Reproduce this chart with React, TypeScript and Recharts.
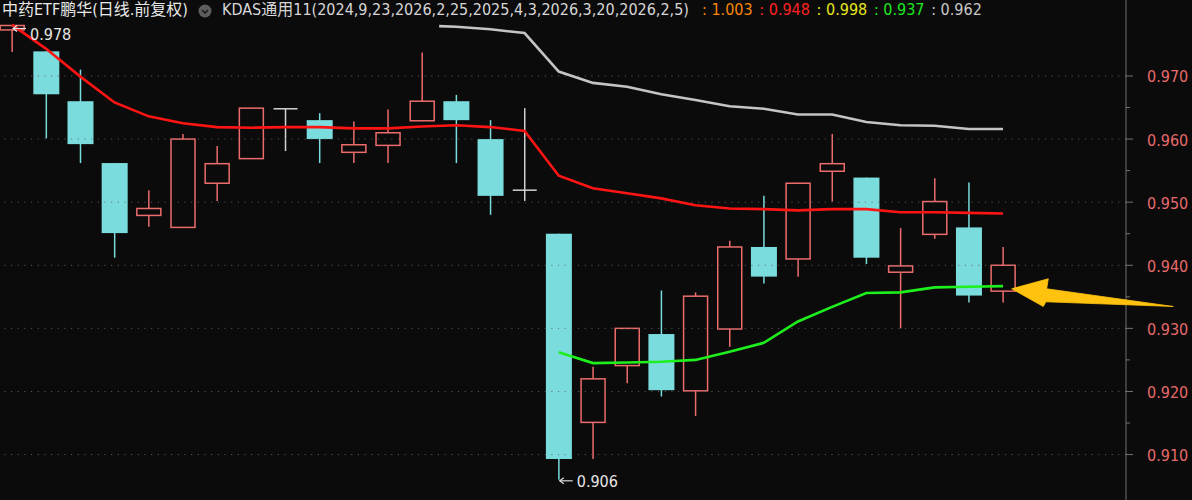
import React from 'react';
import { ComposedChart, Bar, Line, XAxis, YAxis, ReferenceLine, ReferenceDot } from 'recharts';

// ---- data ----
const indices = [0, 1, 2, 3, 4, 5, 6, 7, 8, 9, 10, 11, 12, 13, 14, 15, 16, 17, 18, 19, 20, 21, 22, 23, 24, 25, 26, 27, 28, 29];
const opens = [0.9773, 0.9739, 0.9660, 0.9562, 0.9479, 0.9460, 0.9530, 0.9569, 0.9648, 0.9630, 0.9579, 0.9590, 0.9629, 0.9660, 0.9600, 0.9519, 0.9450, 0.9151, 0.9241, 0.9291, 0.9201, 0.9299, 0.9429, 0.9410, 0.9549, 0.9539, 0.9389, 0.9449, 0.9460, 0.9359];
const closes = [0.9780, 0.9671, 0.9592, 0.9451, 0.9490, 0.9600, 0.9561, 0.9649, 0.9648, 0.9600, 0.9591, 0.9610, 0.9660, 0.9630, 0.9510, 0.9519, 0.9093, 0.9220, 0.9300, 0.9202, 0.9351, 0.9429, 0.9382, 0.9530, 0.9561, 0.9412, 0.9399, 0.9501, 0.9352, 0.9400];
const highs = [0.9780, 0.9739, 0.9710, 0.9562, 0.9519, 0.9608, 0.9589, 0.9649, 0.9648, 0.9641, 0.9628, 0.9647, 0.9737, 0.9670, 0.9630, 0.9649, 0.9450, 0.9239, 0.9300, 0.9360, 0.9357, 0.9439, 0.9510, 0.9530, 0.9608, 0.9539, 0.9459, 0.9538, 0.9531, 0.9429];
const lows = [0.9738, 0.9601, 0.9562, 0.9412, 0.9461, 0.9460, 0.9502, 0.9569, 0.9581, 0.9562, 0.9562, 0.9562, 0.9629, 0.9562, 0.9480, 0.9502, 0.9060, 0.9093, 0.9213, 0.9192, 0.9161, 0.9271, 0.9371, 0.9382, 0.9501, 0.9402, 0.9300, 0.9442, 0.9341, 0.9341];
const redLine = [0.9781, 0.9743, 0.9699, 0.9658, 0.9636, 0.9625, 0.9619, 0.9618, 0.9619, 0.9619, 0.9617, 0.9617, 0.9620, 0.9622, 0.9619, 0.9613, 0.9542, 0.9522, 0.9514, 0.9506, 0.9495, 0.9490, 0.9489, 0.9487, 0.9489, 0.9489, 0.9484, 0.9484, 0.9483, 0.9482];
const greenLine = [null, null, null, null, null, null, null, null, null, null, null, null, null, null, null, null, 0.9262, 0.9245, 0.9246, 0.9247, 0.9250, 0.9263, 0.9277, 0.9311, 0.9334, 0.9356, 0.9357, 0.9365, 0.9366, 0.9367];
const grayIdx = [12.5, 13, 14, 15, 16, 17, 18, 19, 20, 21, 22, 23, 24, 25, 26, 27, 28, 29];
const grayLine = [0.9779, 0.9778, 0.9774, 0.9768, 0.9707, 0.9689, 0.9683, 0.9671, 0.9662, 0.9652, 0.9648, 0.9639, 0.9639, 0.9627, 0.9622, 0.9621, 0.9616, 0.9616];
const majorTicks = [0.91, 0.92, 0.93, 0.94, 0.95, 0.96, 0.97];
const minorTicks = [0.915, 0.925, 0.935, 0.945, 0.955, 0.965];
const titleText = '中药ETF鹏华(日线.前复权)';
const indicatorText = 'KDAS通用11(2024,9,23,2026,2,25,2025,4,3,2026,3,20,2026,2,5)';
const legendValues = ['1.003', '0.948', '0.998', '0.937', '0.962'];
const legendColors = ['#f5860a', '#ff2222', '#e6e61a', '#1ee61e', '#c8c8c8'];
const highMark = { i: 0, v: 0.978, label: '0.978' };
const lowMark = { i: 16, v: 0.906, label: '0.906' };

const data = indices.map((i, k) => ({
  i,
  open: opens[k],
  close: closes[k],
  high: highs[k],
  low: lows[k],
  red: redLine[k],
  green: greenLine[k],
}));
const grayData = grayIdx.map((i, k) => ({ i, gray: grayLine[k] }));

const FONT = "'DejaVu Sans Condensed', 'Liberation Sans Narrow', 'DejaVu Sans', 'Noto Sans CJK SC', sans-serif";
const UP = '#ec6c6c';
const DOWN = '#7adcdc';
const DOJI = '#d2d2d2';
const BG = '#0b0b0b';

const Candle = (props: any) => {
  const { x, y, width, height, payload } = props;
  if (!payload || payload.open == null) return null;
  const { open, close, high, low } = payload;
  const cx = x + width / 2;
  const yTop = Math.min(y, y + height);
  const yBot = Math.max(y, y + height);
  const span = high - low;
  const py = (v: number) => yTop + ((high - v) / span) * (yBot - yTop);
  const yO = py(open);
  const yC = py(close);
  if (open === close) {
    return (
      <g>
        <line x1={cx} x2={cx} y1={yTop} y2={yBot} stroke={DOJI} strokeWidth={1.5} />
        <line x1={cx - 12} x2={cx + 12} y1={yO} y2={yO} stroke={DOJI} strokeWidth={1.5} />
      </g>
    );
  }
  if (close > open) {
    return (
      <g>
        {yC - yTop > 0.5 && <line x1={cx} x2={cx} y1={yTop} y2={yC} stroke={UP} strokeWidth={1.5} />}
        {yBot - yO > 0.5 && <line x1={cx} x2={cx} y1={yO} y2={yBot} stroke={UP} strokeWidth={1.5} />}
        <rect x={cx - 12} y={yC} width={24} height={Math.max(1, yO - yC)} fill="none" stroke={UP} strokeWidth={1.5} />
      </g>
    );
  }
  return (
    <g>
      <line x1={cx} x2={cx} y1={yTop} y2={yBot} stroke={DOWN} strokeWidth={1.5} />
      <rect x={cx - 13} y={yO} width={26} height={Math.max(1, yC - yO)} fill={DOWN} />
    </g>
  );
};

const YTick = (props: any) => {
  const { x, y, payload } = props;
  const v = payload.value as number;
  const major = majorTicks.some((m) => Math.abs(m - v) < 1e-9);
  return (
    <g>
      <line x1={x} x2={x + (major ? 7 : 4)} y1={y} y2={y} stroke="#747474" strokeWidth={1} />
      {major && (
        <text x={x + 21} y={y + 6.5} fill="#e66a6a" fontSize={16} fontFamily={FONT}>
          {v.toFixed(3)}
        </text>
      )}
    </g>
  );
};

const makeMarker = (label: string, arrowDy: number, textDy: number) => (props: any) => {
  const { cx, cy } = props;
  const ay = cy + arrowDy;
  return (
    <g>
      <line x1={cx + 1} x2={cx + 14} y1={ay} y2={ay} stroke="#dcdcdc" strokeWidth={1.2} />
      <polyline points={`${cx + 5},${ay - 3} ${cx + 1},${ay} ${cx + 5},${ay + 3}`} fill="none" stroke="#dcdcdc" strokeWidth={1.2} />
      <text x={cx + 18} y={cy + textDy} fill="#e6e6e6" fontSize={16} fontFamily={FONT}>
        {label}
      </text>
    </g>
  );
};

const ArrowShape = (props: any) => {
  const { cx, cy } = props;
  const p = (dx: number, dy: number) => `${cx + dx},${cy + dy}`;
  const pts = [p(8.7, 2.7), p(45.3, -7.3), p(43.7, 2.7), p(170.3, 20.4), p(43, 15.7), p(40.3, 20.4)].join(' ');
  return <polygon points={pts} fill="#ffc20e" stroke="#ffc20e" strokeWidth={0.8} strokeLinejoin="round" />;
};

const HighMarker = makeMarker(highMark.label, 3, 15);
const LowMarker = makeMarker(lowMark.label, 1, 7);

export default function App() {
  return (
    <div style={{ position: 'absolute', left: 0, top: 0, width: 1192, height: 500, background: BG, overflow: 'hidden' }}>
      <ComposedChart width={1192} height={500} data={data} margin={{ top: 0, right: 0, bottom: 0, left: 0 }}>
        <XAxis dataKey="i" type="number" domain={[-0.3512, 32.6]} hide allowDataOverflow />
        <YAxis
          orientation="right"
          type="number"
          width={66}
          domain={[0.9028, 0.98204]}
          allowDataOverflow
          ticks={[...majorTicks, ...minorTicks].sort((a, b) => a - b)}
          interval={0}
          tickSize={0}
          tickMargin={0}
          tickLine={false}
          axisLine={{ stroke: '#707070', strokeWidth: 1 }}
          tick={<YTick />}
        />
        {majorTicks.map((t) => (
          <ReferenceLine key={t} y={t} stroke="#646464" strokeDasharray="1 5.67" strokeWidth={1} />
        ))}
        <Bar dataKey={(d: any) => [d.low, d.high]} barSize={26} shape={<Candle />} isAnimationActive={false} />
        <Line dataKey="red" stroke="#ff1414" strokeWidth={2.6} dot={false} isAnimationActive={false} type="linear" />
        <Line data={grayData} dataKey="gray" stroke="#c4c4c4" strokeWidth={2.6} dot={false} isAnimationActive={false} type="linear" />
        <Line dataKey="green" stroke="#1ef01e" strokeWidth={2.6} dot={false} isAnimationActive={false} type="linear" />
        <ReferenceDot x={highMark.i} y={highMark.v} r={0} shape={(p: any) => <HighMarker {...p} />} />
        <ReferenceDot x={lowMark.i} y={lowMark.v} r={0} shape={(p: any) => <LowMarker {...p} />} />
        <ReferenceDot x={29} y={greenLine[29] as number} r={0} shape={(p: any) => <ArrowShape {...p} />} />
      </ComposedChart>
      <div style={{ position: 'absolute', left: 0, top: 0, width: 1192, height: 22, fontFamily: FONT, fontSize: 16, lineHeight: '20px', whiteSpace: 'nowrap' }}>
        <span style={{ position: 'absolute', left: 2, top: 0, color: '#e8e8e8' }}>{titleText}</span>
        <svg style={{ position: 'absolute', left: 198, top: 4 }} width={14} height={14}>
          <circle cx={7} cy={7} r={6.5} fill="#5e5e5e" />
          <polyline points="4,6 7,9 10,6" fill="none" stroke="#1c1c1c" strokeWidth={1.6} />
        </svg>
        <span style={{ position: 'absolute', left: 222, top: 0, color: '#d6d6d6' }}>{indicatorText}</span>
        {legendValues.map((v, k) => (
          <span key={k} style={{ position: 'absolute', left: 702 + k * 57.3, top: 0, color: legendColors[k] }}>
            {': ' + v}
          </span>
        ))}
      </div>
    </div>
  );
}
